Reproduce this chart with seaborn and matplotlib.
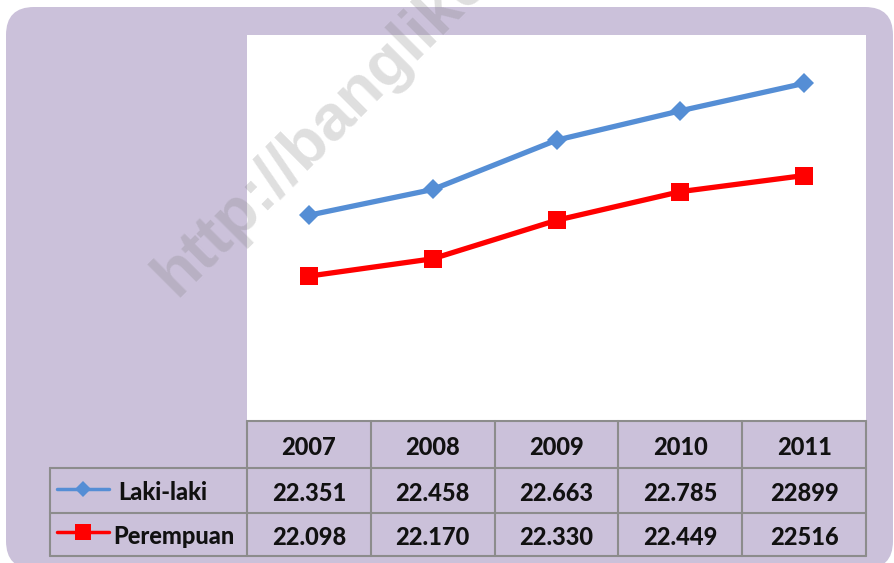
import pandas as pd
import matplotlib.pyplot as plt
import seaborn as sns
from matplotlib.patches import FancyBboxPatch
from matplotlib.lines import Line2D

# data
years = ['2007', '2008', '2009', '2010', '2011']
laki = [22.351, 22.458, 22.663, 22.785, 22.899]
perempuan = [22.098, 22.170, 22.330, 22.449, 22.516]
laki_labels = ['22.351', '22.458', '22.663', '22.785', '22899']
perempuan_labels = ['22.098', '22.170', '22.330', '22.449', '22516']

blue = '#558ED5'
red = '#FF0000'
purple = '#CBC1DA'
grid = '#8C8C8C'

sns.set_theme(style='white')
plt.rcParams['font.family'] = ['Lato', 'DejaVu Sans']

W, H = 894, 563
fig = plt.figure(figsize=(W / 100, H / 100), dpi=100)
fig.patch.set_facecolor('white')

# background layer in pixel coords
bg = fig.add_axes([0, 0, 1, 1], zorder=0)
bg.set_xlim(0, W)
bg.set_ylim(H, 0)
bg.axis('off')
bg.add_patch(FancyBboxPatch((6, 7), 887, 562, boxstyle='round,pad=0,rounding_size=28',
                            facecolor=purple, edgecolor='none'))

# plot area
px0, py0, pw, ph = 247, 35, 619, 385
ax = fig.add_axes([px0 / W, 1 - (py0 + ph) / H, pw / W, ph / H], zorder=1)
ax.set_facecolor('white')

df_l = pd.DataFrame({'Tahun': years, 'Nilai': laki})
df_p = pd.DataFrame({'Tahun': years, 'Nilai': perempuan})
sns.lineplot(data=df_l, x='Tahun', y='Nilai', ax=ax, color=blue, linewidth=3.8,
             marker='D', markersize=10.5, markeredgewidth=0, sort=False)
sns.lineplot(data=df_p, x='Tahun', y='Nilai', ax=ax, color=red, linewidth=3.8,
             marker='s', markersize=13.5, markeredgewidth=0, sort=False)
ax.set_xlim(-0.5, len(years) - 0.5)
ax.set_ylim(21.5, 23.1)
ax.set_xticks([])
ax.set_yticks([])
ax.set_xlabel('')
ax.set_ylabel('')
for s in ax.spines.values():
    s.set_visible(False)

# data table below the plot
ov = fig.add_axes([0, 0, 1, 1], zorder=2)
ov.set_xlim(0, W)
ov.set_ylim(H, 0)
ov.axis('off')
ov.patch.set_alpha(0)

cw = pw / len(years)
col_x = [px0 + i * cw for i in range(len(years) + 1)]
row_y = [421, 468, 513, 556]
lx0 = 50
lw = 1.5

ov.plot([px0, px0 + pw], [row_y[0]] * 2, color=grid, lw=lw)
for y in row_y[1:]:
    ov.plot([lx0, px0 + pw], [y, y], color=grid, lw=lw)
for x in col_x:
    ov.plot([x, x], [row_y[0], row_y[-1]], color=grid, lw=lw)
ov.plot([lx0, lx0], [row_y[1], row_y[-1]], color=grid, lw=lw)

txt = dict(ha='center', va='center', fontsize=17, fontweight='black', color='#111111')
for i, yr in enumerate(years):
    cx = col_x[i] + cw / 2
    ov.text(cx, (row_y[0] + row_y[1]) / 2 + 3, yr, **txt)
    ov.text(cx, (row_y[1] + row_y[2]) / 2 + 3, laki_labels[i], **txt)
    ov.text(cx, (row_y[2] + row_y[3]) / 2 + 3, perempuan_labels[i], **txt)

# legend keys inside the table
ov.add_line(Line2D([57, 109], [489, 489], color=blue, lw=2.5))
ov.plot([83], [489], marker='D', markersize=8, color=blue, markeredgewidth=0)
ov.add_line(Line2D([57, 109], [532, 532], color=red, lw=2.5))
ov.plot([83], [532], marker='s', markersize=11, color=red, markeredgewidth=0)
ov.text(118, 493, 'Laki-laki', ha='left', va='center', fontsize=17,
        fontweight='black', color='#111111')
ov.text(113, 537, 'Perempuan', ha='left', va='center', fontsize=17,
        fontweight='black', color='#111111')

# watermark
ov.text(176, 298, 'http://banglike', rotation=45, rotation_mode='anchor',
        ha='left', va='baseline', fontsize=47, fontweight='bold',
        family=['Liberation Sans', 'DejaVu Sans'], color='#808080', alpha=0.25,
        zorder=5)

fig.savefig('out.png', dpi=100)
